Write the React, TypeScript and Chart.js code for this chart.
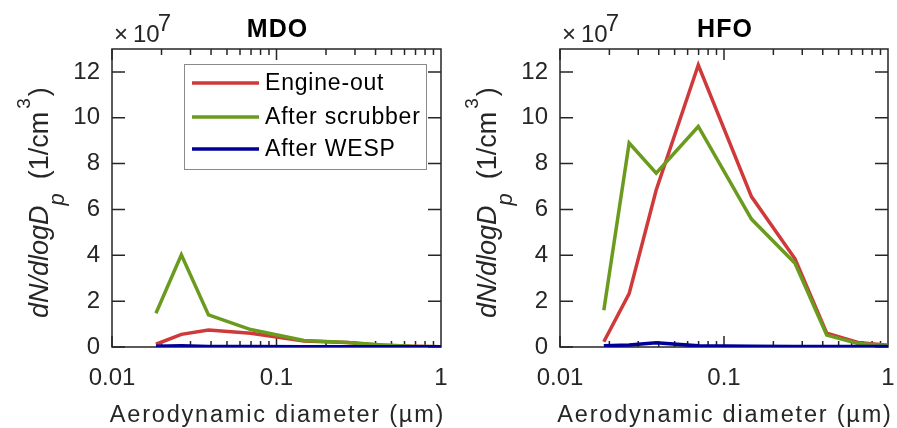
import React, { useEffect, useRef } from 'react';
import { Chart, registerables } from 'chart.js';

Chart.register(...registerables);

// ---- data (dN/dlogDp in units of 1e7 per cm^3) ----
const DIAMETERS = [0.0185, 0.0264, 0.0386, 0.0697, 0.147, 0.271, 0.423, 0.656, 1.0];
const SERIES_NAMES = ['Engine-out', 'After scrubber', 'After WESP'];
const MDO_ENGINE_OUT = [0.12, 0.55, 0.74, 0.6, 0.26, 0.2, 0.08, 0.03, 0.01];
const MDO_AFTER_SCRUBBER = [1.47, 4.02, 1.4, 0.76, 0.28, 0.2, 0.1, 0.03, 0.01];
const MDO_AFTER_WESP = [0.03, 0.05, 0.02, 0.02, 0.01, 0.01, 0.01, 0.01, 0.01];
const HFO_ENGINE_OUT = [0.23, 2.33, 6.85, 12.3, 6.56, 3.85, 0.6, 0.2, 0.08];
const HFO_AFTER_SCRUBBER = [1.6, 8.9, 7.58, 9.62, 5.58, 3.65, 0.52, 0.15, 0.06];
const HFO_AFTER_WESP = [0.06, 0.09, 0.18, 0.05, 0.03, 0.02, 0.02, 0.02, 0.02];
const Y_TICKS = [0, 2, 4, 6, 8, 10, 12];
const Y_MAX = 13;
const X_TICKS = [0.01, 0.1, 1];
const X_TICK_LABELS = ['0.01', '0.1', '1'];
const X_TITLE = 'Aerodynamic diameter (\u00B5m)';
const MULTIPLIER_EXP = '7';

// ---- style ----
const AXIS_COLOR = '#262626';
const COLORS = ['#d0393a', '#6a9b1f', '#000096'];
const FONT = '"Liberation Sans", Arial, Helvetica, sans-serif';

function setSpacing(ctx: any, px: number) {
  if ('letterSpacing' in ctx) ctx.letterSpacing = `${px}px`;
}

function drawYLabel(ctx: CanvasRenderingContext2D, baseX: number, startY: number) {
  const big = 27;
  const parts = [
    { t: 'dN/dlogD', f: `italic ${big}px ${FONT}`, dy: 0, gap: 0 },
    { t: 'p', f: `italic 22px ${FONT}`, dy: 16, gap: 14 },
    { t: '(1/cm', f: `${big}px ${FONT}`, dy: 0, gap: 3 },
    { t: '3', f: `19px ${FONT}`, dy: -18, gap: 2 },
    { t: ')', f: `${big}px ${FONT}`, dy: 0, gap: 0 },
  ];
  ctx.save();
  setSpacing(ctx, 0);
  ctx.translate(baseX, startY);
  ctx.rotate(-Math.PI / 2);
  ctx.fillStyle = AXIS_COLOR;
  ctx.textBaseline = 'alphabetic';
  ctx.textAlign = 'left';
  let x = 0;
  for (const p of parts) {
    ctx.font = p.f;
    ctx.fillText(p.t, x, p.dy);
    x += ctx.measureText(p.t).width + p.gap;
  }
  ctx.restore();
}

const framePlugin = {
  id: 'frame',
  beforeDatasetsDraw(chart: any) {
    const { ctx, chartArea: a, scales } = chart;
    const x = scales.x;
    const y = scales.y;
    ctx.save();
    ctx.strokeStyle = AXIS_COLOR;
    ctx.lineWidth = 1.5;
    ctx.beginPath();
    ctx.rect(a.left, a.top, a.right - a.left, a.bottom - a.top);
    ctx.stroke();
    ctx.beginPath();
    for (const v of Y_TICKS) {
      const py = y.getPixelForValue(v);
      ctx.moveTo(a.left, py);
      ctx.lineTo(a.left + 13, py);
      ctx.moveTo(a.right, py);
      ctx.lineTo(a.right - 13, py);
    }
    for (const dec of [0.01, 0.1]) {
      for (let k = 1; k <= 9; k++) {
        const v = dec * k;
        const px = x.getPixelForValue(v);
        const len = k === 1 ? 11 : 6;
        ctx.moveTo(px, a.bottom);
        ctx.lineTo(px, a.bottom - len);
        ctx.moveTo(px, a.top);
        ctx.lineTo(px, a.top + len);
      }
    }
    ctx.stroke();
    ctx.restore();
  },
  afterDraw(chart: any, _args: any, opts: any) {
    const { ctx, chartArea: a } = chart;
    const cxm = (a.left + a.right) / 2;
    ctx.save();
    // title
    ctx.fillStyle = '#000';
    setSpacing(ctx, 1);
    ctx.font = `bold 25px ${FONT}`;
    ctx.textAlign = 'center';
    ctx.textBaseline = 'alphabetic';
    ctx.fillText(opts.title, cxm + 1, 37);
    // x axis title
    ctx.fillStyle = AXIS_COLOR;
    setSpacing(ctx, 1.8);
    ctx.font = `23.5px ${FONT}`;
    ctx.fillText(X_TITLE, cxm + 1, 422);
    // multiplier
    setSpacing(ctx, 0);
    ctx.textAlign = 'left';
    ctx.font = `24px ${FONT}`;
    ctx.fillText('\u00D7', a.left + 2, 42);
    ctx.fillText('10', a.left + 21, 42);
    const bw = ctx.measureText('10').width;
    ctx.fillText(MULTIPLIER_EXP, a.left + 21 + bw - 2, 31);
    ctx.restore();
    // y label
    drawYLabel(ctx, 48, 318);
    // legend
    if (opts.showLegend) {
      ctx.save();
      const lx = a.left + 72;
      const ly = a.top + 15;
      ctx.fillStyle = '#fff';
      ctx.fillRect(lx, ly, 242, 105);
      ctx.strokeStyle = '#8a8a8a';
      ctx.lineWidth = 1;
      ctx.strokeRect(lx + 0.5, ly + 0.5, 242, 105);
      const rows = [34, 68, 100];
      setSpacing(ctx, 0.8);
      ctx.font = `23px ${FONT}`;
      ctx.textBaseline = 'middle';
      ctx.textAlign = 'left';
      SERIES_NAMES.forEach((name, i) => {
        const ry = a.top + rows[i];
        ctx.strokeStyle = COLORS[i];
        ctx.lineWidth = 3.5;
        ctx.beginPath();
        ctx.moveTo(a.left + 80, ry);
        ctx.lineTo(a.left + 147, ry);
        ctx.stroke();
        ctx.fillStyle = '#000';
        ctx.fillText(name, a.left + 153, ry + 1);
      });
      ctx.restore();
    }
  },
};

type PanelProps = {
  title: string;
  engine: number[];
  scrubber: number[];
  wesp: number[];
  showLegend: boolean;
  width: number;
  rightPad: number;
};

function Panel({ title, engine, scrubber, wesp, showLegend, width, rightPad }: PanelProps) {
  const ref = useRef<HTMLCanvasElement>(null);
  useEffect(() => {
    if (!ref.current) return;
    const mk = (vals: number[]) => DIAMETERS.map((d, i) => ({ x: d, y: vals[i] }));
    const series = [engine, scrubber, wesp];
    // drawn in reverse index order: index 0 ends on top
    const datasets = [2, 1, 0].map((i) => ({
      label: SERIES_NAMES[i],
      data: mk(series[i]),
      borderColor: COLORS[i],
      backgroundColor: COLORS[i],
      borderWidth: 3.5,
      pointRadius: 0,
      tension: 0,
      fill: false,
      borderJoinStyle: 'miter' as const,
    }));
    const chart = new Chart(ref.current, {
      type: 'line',
      data: { datasets },
      options: {
        responsive: false,
        animation: false,
        devicePixelRatio: 1,
        parsing: false,
        layout: { padding: { left: 0, right: rightPad, top: 49, bottom: 0 } },
        plugins: {
          legend: { display: false },
          tooltip: { enabled: false },
          // @ts-ignore
          frame: { title, showLegend },
        },
        scales: {
          x: {
            type: 'logarithmic',
            min: 0.01,
            max: 1,
            grid: { display: false },
            border: { display: false },
            afterBuildTicks: (s: any) => {
              s.ticks = X_TICKS.map((v) => ({ value: v }));
            },
            afterFit: (s: any) => {
              s.height = 81;
              s.paddingLeft = 0;
              s.paddingRight = 0;
            },
            ticks: {
              autoSkip: false,
              maxRotation: 0,
              padding: 9,
              color: AXIS_COLOR,
              font: { family: FONT, size: 24 },
              callback: (_v: any, i: number) => X_TICK_LABELS[i],
            },
          },
          y: {
            type: 'linear',
            min: 0,
            max: Y_MAX,
            grid: { display: false },
            border: { display: false },
            afterBuildTicks: (s: any) => {
              s.ticks = Y_TICKS.map((v) => ({ value: v }));
            },
            afterFit: (s: any) => {
              s.width = 112;
              s.paddingTop = 0;
              s.paddingBottom = 0;
            },
            ticks: {
              padding: 4,
              color: AXIS_COLOR,
              font: { family: FONT, size: 24 },
              callback: (v: any) => String(v),
            },
          },
        },
      },
      plugins: [framePlugin],
    });
    return () => chart.destroy();
  }, []);
  return <canvas ref={ref} width={width} height={428} style={{ display: 'block' }} />;
}

export default function App() {
  return (
    <div style={{ position: 'absolute', left: 0, top: 0, width: 897, height: 428, display: 'flex', background: '#fff' }}>
      <Panel title="MDO" engine={MDO_ENGINE_OUT} scrubber={MDO_AFTER_SCRUBBER} wesp={MDO_AFTER_WESP} showLegend={true} width={448} rightPad={7} />
      <Panel title="HFO" engine={HFO_ENGINE_OUT} scrubber={HFO_AFTER_SCRUBBER} wesp={HFO_AFTER_WESP} showLegend={false} width={449} rightPad={9} />
    </div>
  );
}
